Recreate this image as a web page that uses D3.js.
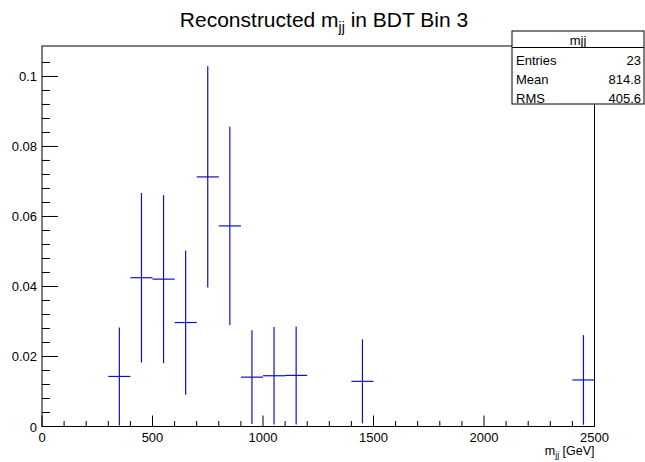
<!DOCTYPE html>
<html>
<head>
<meta charset="utf-8">
<script src="https://cdn.jsdelivr.net/npm/d3@7"></script>
<style>
  body { margin: 0; background: #fff; }
  svg { display: block; font-family: "Liberation Sans", Arial, sans-serif; }
</style>
</head>
<body>
<svg id="chart"></svg>
<script>
// bin centres (GeV), bin contents and their errors
const binCenters = [350, 450, 550, 650, 750, 850, 950, 1050, 1150, 1450, 2450];
const binValues = [0.0143, 0.0425, 0.0421, 0.0297, 0.0713, 0.0573, 0.0141, 0.0145, 0.0146, 0.0129, 0.0133];
const binErrors = [0.0140, 0.0242, 0.0240, 0.0206, 0.0316, 0.0283, 0.0134, 0.0139, 0.0140, 0.0120, 0.0128];
const binWidth = 100;

const xTicks = [0, 500, 1000, 1500, 2000, 2500];
const yTicks = [0, 0.02, 0.04, 0.06, 0.08, 0.1];

const statsTitle = "mjj";
const statsLabels = ["Entries", "Mean", "RMS"];
const statsValues = ["23", "814.8", "405.6"];

const width = 645, height = 462;
const margin = { top: 46, right: 50.5, bottom: 35.5, left: 42 };

const svg = d3.select("#chart").attr("width", width).attr("height", height);

const x = d3.scaleLinear().domain([0, 2500]).range([margin.left, width - margin.right]);
const y = d3.scaleLinear().domain([0, 0.1087]).range([height - margin.bottom, margin.top]);

// frame
svg.append("rect")
  .attr("x", x(0)).attr("y", y(0.1087))
  .attr("width", x(2500) - x(0)).attr("height", y(0) - y(0.1087))
  .attr("fill", "none").attr("stroke", "#000").attr("stroke-width", 1);

// x ticks (major every 500, minor every 100)
const xMinor = d3.range(0, 2501, 100);
svg.append("g").selectAll("line").data(xMinor).join("line")
  .attr("x1", d => x(d)).attr("x2", d => x(d))
  .attr("y1", y(0)).attr("y2", d => y(0) - (d % 500 === 0 ? 11 : 5.5))
  .attr("stroke", "#000");
svg.append("g").selectAll("text").data(xTicks).join("text")
  .attr("x", d => x(d)).attr("y", y(0) + 15)
  .attr("text-anchor", "middle").attr("font-size", 13)
  .text(d => d);

// y ticks (major every 0.02, minor every 0.004)
const yMinor = d3.range(0, 27).map(i => i * 0.004);
svg.append("g").selectAll("line").data(yMinor).join("line")
  .attr("x1", x(0)).attr("x2", (d, i) => x(0) + (i % 5 === 0 ? 16 : 8))
  .attr("y1", d => y(d)).attr("y2", d => y(d))
  .attr("stroke", "#000");
svg.append("g").selectAll("text").data(yTicks).join("text")
  .attr("x", x(0) - 5).attr("y", d => y(d) + 5)
  .attr("text-anchor", "end").attr("font-size", 13)
  .text(d => d === 0 ? "0" : d3.format("~g")(d));

// histogram markers with error bars
const bins = binCenters.map((c, i) => ({ c, v: binValues[i], e: binErrors[i] }));
const g = svg.append("g").attr("stroke", "#1010c0").attr("stroke-width", 1.2);
g.selectAll(".h").data(bins).join("line")
  .attr("x1", d => x(d.c - binWidth / 2)).attr("x2", d => x(d.c + binWidth / 2))
  .attr("y1", d => y(d.v)).attr("y2", d => y(d.v));
g.selectAll(".v").data(bins).join("line")
  .attr("x1", d => x(d.c)).attr("x2", d => x(d.c))
  .attr("y1", d => y(Math.max(0, d.v - d.e))).attr("y2", d => y(d.v + d.e));

// title
const title = svg.append("text")
  .attr("x", 324).attr("y", 27).attr("text-anchor", "middle").attr("font-size", 21);
title.append("tspan").text("Reconstructed m");
title.append("tspan").attr("font-size", 14).attr("dy", 5).text("jj");
title.append("tspan").attr("dy", -5).text("  in BDT Bin 3");

// x axis title
const xt = svg.append("text")
  .attr("x", x(2500)).attr("y", 455).attr("text-anchor", "end").attr("font-size", 12.5);
xt.append("tspan").text("m");
xt.append("tspan").attr("font-size", 8.5).attr("dy", 3).text("jj");
xt.append("tspan").attr("dy", -3).text(" [GeV]");

// stats box
const bx = 512, by = 31, bw = 132, bh = 73;
const box = svg.append("g");
box.append("rect").attr("x", bx).attr("y", by).attr("width", bw).attr("height", bh)
  .attr("fill", "#fff").attr("stroke", "#000");
box.append("line").attr("x1", bx).attr("x2", bx + bw).attr("y1", 47.5).attr("y2", 47.5).attr("stroke", "#000");
box.append("text").attr("x", bx + bw / 2).attr("y", 45).attr("text-anchor", "middle")
  .attr("font-size", 13).text(statsTitle);
statsLabels.forEach((lab, i) => {
  const ty = 61 + i * 19;
  box.append("text").attr("x", bx + 4).attr("y", ty + 4).attr("font-size", 13).text(lab);
  box.append("text").attr("x", bx + bw - 3).attr("y", ty + 4).attr("text-anchor", "end")
    .attr("font-size", 13).text(statsValues[i]);
});
</script>
</body>
</html>
